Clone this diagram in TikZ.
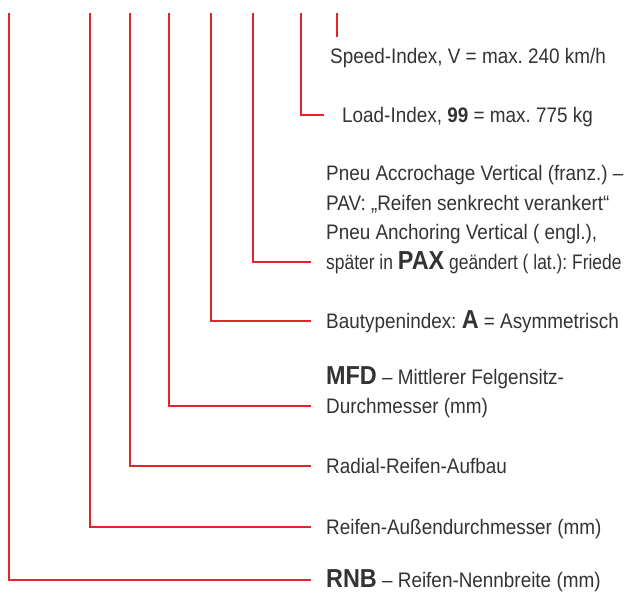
\documentclass[tikz,border=0pt]{standalone}
\usepackage{fontspec}
\setmainfont[FakeStretch=0.9]{Liberation Sans}
\newfontfamily\schmal[FakeStretch=0.83]{Liberation Sans}
\usepackage{tikz}
\usetikzlibrary{positioning}
\definecolor{tyrered}{HTML}{E4232B}
\definecolor{tyretext}{HTML}{333333}
\newcommand{\kennung}[1]{{\rmfamily\fontsize{26}{26}\selectfont\bfseries #1}}
\frenchspacing

\begin{document}
\begin{tikzpicture}[x=1pt,y=-1pt,
  lbl/.style={anchor=west,inner sep=0pt,text height=14pt,text depth=0pt,text=tyretext,font=\fontsize{21}{21}\selectfont},
  leg/.style={draw=tyrered,line width=1.1pt}]
  \useasboundingbox (0,0) rectangle (629,592);
  \coordinate (rnbT) at (9,13);
  \coordinate (aussenT) at (90,13);
  \coordinate (radialT) at (130,13);
  \coordinate (mfdT) at (169,13);
  \coordinate (bauT) at (211,13);
  \coordinate (pavT) at (253,13);
  \coordinate (loadT) at (301,13);
  \coordinate (speedT) at (337,13);
  \node[lbl] (speed) at (330,56) {Speed-Index, V = max. 240 km/h};
  \node[lbl] (load) at (342,115) {Load-Index, \textbf{99} = max. 775 kg};
  \node[lbl] (pavA) at (326,173) {Pneu Accrochage Vertical (franz.) –};
  \node[lbl] (pavB) at (326,203) {PAV: „Reifen senkrecht verankert“};
  \node[lbl] (pavC) at (326,232) {Pneu Anchoring Vertical ( engl.),};
  \node[lbl] (pavD) at (326,262) {\schmal später in \kennung{PAX} geändert ( lat.): Friede};
  \node[lbl] (bau) at (326,321) {Bautypenindex: \kennung{A} = Asymmetrisch};
  \node[lbl] (mfdA) at (326,377) {\kennung{MFD} – Mittlerer Felgensitz-};
  \node[lbl] (mfdB) at (326,406) {Durchmesser (mm)};
  \node[lbl] (radial) at (326,466) {Radial-Reifen-Aufbau};
  \node[lbl] (aussen) at (326,527) {Reifen-Außendurchmesser (mm)};
  \node[lbl] (rnb) at (326,580) {\kennung{RNB} – Reifen-Nennbreite (mm)};
  \draw[leg] (speedT) -- ([yshift=12pt]speedT |- speed.north);
  \draw[leg] (loadT) |- ([xshift=-18pt]load.west);
  \draw[leg] (pavT) |- ([xshift=-15pt]pavD.west);
  \draw[leg] (bauT) |- ([xshift=-15pt]bau.west);
  \draw[leg] (mfdT) |- ([xshift=-15pt]mfdB.west);
  \draw[leg] (radialT) |- ([xshift=-15pt]radial.west);
  \draw[leg] (aussenT) |- ([xshift=-15pt]aussen.west);
  \draw[leg] (rnbT) |- ([xshift=-15pt]rnb.west);
\end{tikzpicture}
\end{document}
